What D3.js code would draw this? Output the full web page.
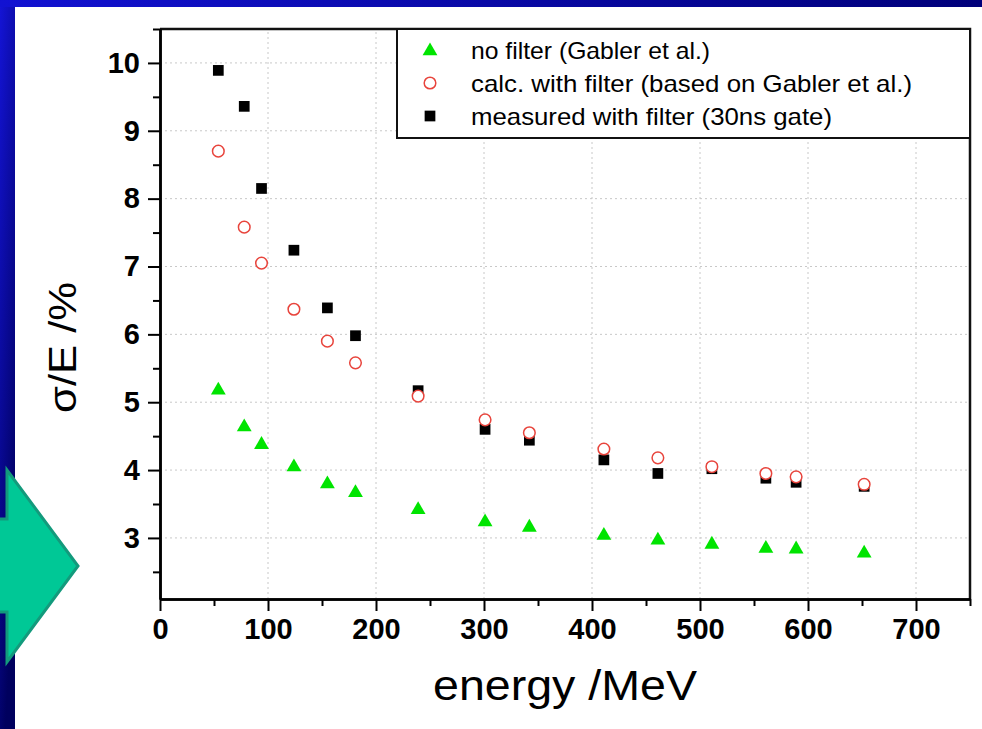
<!DOCTYPE html>
<html>
<head>
<meta charset="utf-8">
<script src="https://cdn.jsdelivr.net/npm/d3@7"></script>
<style>
  body { margin: 0; padding: 0; background: #fff; }
  svg { display: block; }
  text { font-family: "Liberation Sans", Arial, sans-serif; }
</style>
</head>
<body>
<div id="chart"></div>
<script>
// energies (MeV) shared by all three series
var energy      = [54, 78, 94, 124, 155, 181, 239, 301, 342, 411, 461, 511, 561, 589, 652];
var noFilter    = [5.19, 4.65, 4.39, 4.06, 3.81, 3.68, 3.43, 3.25, 3.17, 3.05, 2.98, 2.92, 2.86, 2.85, 2.79];
var calcFilter  = [8.70, 7.58, 7.05, 6.37, 5.90, 5.58, 5.09, 4.74, 4.55, 4.31, 4.18, 4.05, 3.95, 3.90, 3.79];
var measFilter  = [9.89, 9.36, 8.15, 7.24, 6.39, 5.98, 5.17, 4.60, 4.44, 4.15, 3.95, 4.02, 3.88, 3.82, 3.76];

var xMajor = [0, 100, 200, 300, 400, 500, 600, 700];
var xMinor = [50, 150, 250, 350, 450, 550, 650, 750];
var yMajor = [3, 4, 5, 6, 7, 8, 9, 10];
var yMinor = [2.5, 3.5, 4.5, 5.5, 6.5, 7.5, 8.5, 9.5, 10.5];

var legendLabels = ["no filter (Gabler et al.)", "calc. with filter (based on Gabler et al.)", "measured with filter (30ns gate)"];
var legendWidths = [239, 441, 361];

var W = 982, H = 729;
var margin = {top: 29, right: 12, bottom: 130, left: 160};

var svg = d3.select("#chart").append("svg")
    .attr("width", W)
    .attr("height", H);

// slide background: blue frame on top and left
var defs = svg.append("defs");
var grad = defs.append("linearGradient")
    .attr("id", "bluegrad")
    .attr("x1", "0").attr("y1", "0").attr("x2", "0.35").attr("y2", "1");
grad.append("stop").attr("offset", "0").attr("stop-color", "#1414d6");
grad.append("stop").attr("offset", "1").attr("stop-color", "#00005e");
var gradTop = defs.append("linearGradient")
    .attr("id", "bluegradtop")
    .attr("x1", "0").attr("y1", "0").attr("x2", "1").attr("y2", "0");
gradTop.append("stop").attr("offset", "0").attr("stop-color", "#1212d2");
gradTop.append("stop").attr("offset", "1").attr("stop-color", "#00007a");

svg.append("rect").attr("x", 0).attr("y", 0).attr("width", 15).attr("height", H).attr("fill", "url(#bluegrad)");
svg.append("rect").attr("x", 0).attr("y", 0).attr("width", W).attr("height", 7).attr("fill", "url(#bluegradtop)");

// arrow on the left
svg.append("path")
    .attr("d", "M-10,519 L7,519 L7,470 L78,566 L7,662 L7,612 L-10,612 Z")
    .attr("fill", "#00c896")
    .attr("stroke", "#139a7c")
    .attr("stroke-width", 3)
    .attr("stroke-linejoin", "miter");

var x = d3.scaleLinear().domain([0, 750]).range([margin.left, W - margin.right]);
var y = d3.scaleLinear().domain([2.1, 10.5]).range([H - margin.bottom, margin.top]);

// dotted grid
var grid = svg.append("g").attr("class", "grid");
grid.selectAll(".vg").data(xMajor.slice(1)).enter().append("line")
    .attr("x1", d => x(d)).attr("x2", d => x(d))
    .attr("y1", y(2.1)).attr("y2", y(10.5))
    .attr("stroke", "#c8c8c8").attr("stroke-width", 1).attr("stroke-dasharray", "2,3");
grid.selectAll(".hg").data(yMajor).enter().append("line")
    .attr("x1", x(0)).attr("x2", x(750))
    .attr("y1", d => y(d)).attr("y2", d => y(d))
    .attr("stroke", "#c8c8c8").attr("stroke-width", 1).attr("stroke-dasharray", "2,3");

// frame top & right
svg.append("path")
    .attr("d", "M" + x(0) + "," + y(10.5) + " H" + x(750) + " V" + y(2.1))
    .attr("fill", "none").attr("stroke", "#111").attr("stroke-width", 2.5);

// axes
function styleAxis(g) {
    g.select(".domain").attr("stroke", "#000").attr("stroke-width", 2.5);
    g.selectAll(".tick line").attr("stroke", "#000").attr("stroke-width", 2);
    g.selectAll(".tick text")
        .attr("fill", "#000")
        .style("font-size", "29px")
        .style("font-weight", "bold");
}

var xAxisMinor = svg.append("g")
    .attr("transform", "translate(0," + y(2.1) + ")")
    .call(d3.axisBottom(x).tickValues(xMinor).tickSize(7).tickSizeOuter(0).tickFormat(""));
styleAxis(xAxisMinor);
var xAxis = svg.append("g")
    .attr("transform", "translate(0," + y(2.1) + ")")
    .call(d3.axisBottom(x).tickValues(xMajor).tickSize(12).tickSizeOuter(0).tickPadding(7));
styleAxis(xAxis);

var yAxisMinor = svg.append("g")
    .attr("transform", "translate(" + x(0) + ",0)")
    .call(d3.axisLeft(y).tickValues(yMinor).tickSize(7).tickSizeOuter(0).tickFormat(""));
styleAxis(yAxisMinor);
var yAxis = svg.append("g")
    .attr("transform", "translate(" + x(0) + ",0)")
    .call(d3.axisLeft(y).tickValues(yMajor).tickSize(12).tickSizeOuter(0).tickPadding(8));
styleAxis(yAxis);

// axis titles
svg.append("text")
    .attr("x", 433).attr("y", 700)
    .attr("textLength", 264).attr("lengthAdjust", "spacingAndGlyphs")
    .style("font-size", "43px")
    .text("energy /MeV");

svg.append("text")
    .attr("transform", "translate(76,413) rotate(-90)")
    .attr("textLength", 131).attr("lengthAdjust", "spacingAndGlyphs")
    .style("font-size", "38px")
    .text("σ/E /%");

// markers
var triangle = d3.symbol().type(d3.symbolTriangle).size(95);
var square = d3.symbol().type(d3.symbolSquare).size(115);

var pts = energy.map((e, i) => ({e: e, nf: noFilter[i], cf: calcFilter[i], mf: measFilter[i]}));

svg.append("g").selectAll("path").data(pts).enter().append("path")
    .attr("d", square)
    .attr("transform", d => "translate(" + x(d.e) + "," + y(d.mf) + ")")
    .attr("fill", "#000");

svg.append("g").selectAll("circle").data(pts).enter().append("circle")
    .attr("cx", d => x(d.e)).attr("cy", d => y(d.cf))
    .attr("r", 5.8)
    .attr("fill", "#fff")
    .attr("stroke", "#e8443c").attr("stroke-width", 1.5);

svg.append("g").selectAll("path").data(pts).enter().append("path")
    .attr("d", triangle)
    .attr("transform", d => "translate(" + x(d.e) + "," + (y(d.nf) + 1) + ")")
    .attr("fill", "#00e400");

// legend
var lg = svg.append("g");
lg.append("rect")
    .attr("x", 397).attr("y", y(10.5))
    .attr("width", x(750) - 397).attr("height", 138 - y(10.5))
    .attr("fill", "#fff").attr("stroke", "#111").attr("stroke-width", 2);
var rowY = [50, 83, 116];
lg.append("path").attr("d", triangle).attr("transform", "translate(430," + (rowY[0] + 1) + ")").attr("fill", "#00e400");
lg.append("circle").attr("cx", 430).attr("cy", rowY[1]).attr("r", 5.8)
    .attr("fill", "#fff").attr("stroke", "#e8443c").attr("stroke-width", 1.5);
lg.append("path").attr("d", square).attr("transform", "translate(430," + rowY[2] + ")").attr("fill", "#000");
lg.selectAll("text.lab").data(legendLabels).enter().append("text")
    .attr("class", "lab")
    .attr("x", 471).attr("y", (d, i) => rowY[i] + 9)
    .attr("textLength", (d, i) => legendWidths[i]).attr("lengthAdjust", "spacingAndGlyphs")
    .style("font-size", "24px")
    .attr("fill", "#000")
    .text(d => d);
</script>
</body>
</html>
